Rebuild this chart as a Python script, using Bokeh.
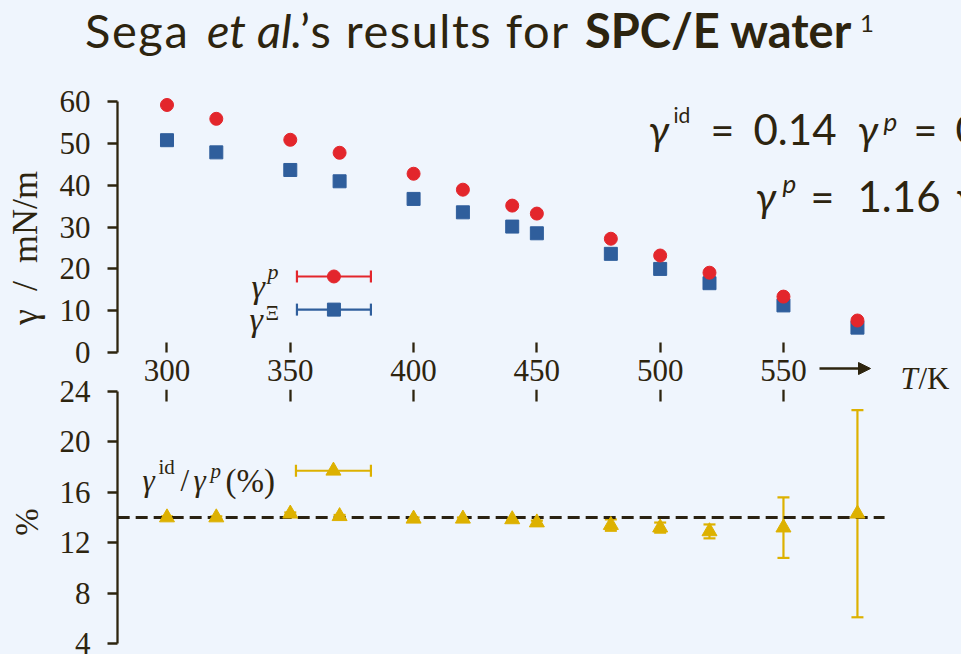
import math
from bokeh.plotting import figure
from bokeh.models import (Range1d, FixedTicker, Label, Whisker, TeeHead,
                          ColumnDataSource, Arrow, NormalHead, Div)
from bokeh.layouts import column
from bokeh.embed import file_html
from bokeh.resources import INLINE

# ---------------- data ----------------
temperature = [300, 320, 350, 370, 400, 420, 440, 450, 480, 500, 520, 550, 580]
gamma_p = [59.1, 55.8, 50.8, 47.7, 42.7, 38.9, 35.1, 33.2, 27.2, 23.2, 19.1, 13.4, 7.7]
gamma_xi = [50.7, 47.8, 43.6, 40.9, 36.7, 33.5, 30.1, 28.5, 23.6, 20.0, 16.6, 11.3, 6.0]
ratio_pct = [14.0, 14.0, 14.3, 14.1, 13.9, 13.9, 13.85, 13.6, 13.4, 13.2, 12.9, 13.2, 14.3]
ratio_err = [0.1, 0.1, 0.1, 0.1, 0.1, 0.1, 0.1, 0.15, 0.45, 0.4, 0.55, 2.4, 8.2]
x_ticks = [300, 350, 400, 450, 500, 550]
top_y_ticks = [0, 10, 20, 30, 40, 50, 60]
bottom_y_ticks = [4, 8, 12, 16, 20, 24]
ideal_ratio = 14.0
ideal_line_T = [280, 591]

# ---------------- style ----------------
BG = "#eff5fd"
TXT = "#2d240f"
RED = "#e3262c"
BLUE = "#2f5e9c"
GOLD = "#ddb100"
SERIF = "Liberation Serif"
SANS = "Lato"

W = 961
LEFT = 117
HEAD_H = 80                 # title strip (html)
TOP_FRAME_TOP = 95
TOP_FRAME_BOTTOM = 400      # hidden under the bottom panel below y=389
TOP_H = TOP_FRAME_BOTTOM - HEAD_H
BOT_FRAME_TOP = 389
BOT_BORDER = 18             # transparent strip above bottom frame
OVERLAP = TOP_FRAME_BOTTOM - BOT_FRAME_TOP + BOT_BORDER
BOT_H = 654 - BOT_FRAME_TOP + BOT_BORDER

src = ColumnDataSource(dict(T=temperature, gp=gamma_p, gx=gamma_xi, r=ratio_pct,
                            lo=[a - b for a, b in zip(ratio_pct, ratio_err)],
                            hi=[a + b for a, b in zip(ratio_pct, ratio_err)]))


def style_common(p):
    p.grid.visible = False
    p.outline_line_color = None
    p.background_fill_color = BG
    p.border_fill_color = BG


def style_y(ax, bounds, ticks, label, label_size):
    ax.ticker = FixedTicker(ticks=ticks)
    ax.bounds = bounds
    ax.axis_line_color = TXT
    ax.axis_line_width = 2.3
    ax.major_tick_line_color = TXT
    ax.major_tick_line_width = 2.3
    ax.major_tick_out = 10
    ax.major_tick_in = 0
    ax.minor_tick_line_color = None
    ax.major_label_text_font = SERIF
    ax.major_label_text_font_size = "31px"
    ax.major_label_text_color = TXT
    ax.major_label_standoff = 17
    ax.axis_label = label
    ax.axis_label_text_font = SERIF
    ax.axis_label_text_font_size = label_size
    ax.axis_label_text_font_style = "normal"
    ax.axis_label_text_color = TXT
    ax.axis_label_standoff = 12


def style_x(ax, tick_in):
    ax.ticker = FixedTicker(ticks=x_ticks)
    ax.axis_line_color = None
    ax.major_tick_line_color = TXT
    ax.major_tick_line_width = 2.3
    ax.major_tick_in = tick_in
    ax.major_tick_out = 0
    ax.minor_tick_line_color = None
    ax.major_label_text_font = SERIF
    ax.major_label_text_color = TXT
    ax.major_label_text_font_size = "31px"
    ax.major_label_standoff = 7


def lab(p, fl, fb, px, py, text, size, font, style="normal", align="left",
        baseline="alphabetic", color=TXT):
    p.add_layout(Label(x=px - fl, y=fb - py, x_units="screen", y_units="screen",
                       text=text, text_font=font, text_font_size=f"{size}px",
                       text_font_style=style, text_align=align,
                       text_baseline=baseline, text_color=color))


def tee(col):
    return TeeHead(size=12, line_color=col, line_width=2.2)


# ---------------- title strip ----------------
def span(left, top, size, text, extra=""):
    return (f'<span style="position:absolute;left:{left}px;top:{top}px;'
            f'font-size:{size}px;line-height:1;white-space:nowrap;{extra}">{text}</span>')


title_html = (
    f'<div style="position:relative;width:{W}px;height:{HEAD_H}px;margin:0;'
    f'font-family:Lato;color:{TXT};background:{BG};">'
    + span(85, 6.6, 47, "Sega", "letter-spacing:1.6px;")
    + span(207, 6.6, 47, "et al.", "font-style:italic;")
    + span(300, 6.6, 47, "’s results for", "letter-spacing:1.5px;")
    + span(585, 6.6, 47, "SPC/E water", "font-weight:bold;")
    + span(860, 10.7, 24, "1")
    + "</div>"
)
head = Div(text=title_html, width=W, height=HEAD_H,
           styles={"margin": "0", "padding": "0", "background-color": BG})

# ---------------- top panel ----------------
PX_PER_UNIT = (352.3 - 100.7) / 60.0
p1 = figure(width=W, height=TOP_H, x_range=Range1d(279.93, 622.2),
            y_range=Range1d(-(TOP_FRAME_BOTTOM - 352.3) / PX_PER_UNIT, 61.36),
            output_backend="svg",
            toolbar_location=None, min_border_left=LEFT, min_border_right=0,
            min_border_top=TOP_FRAME_TOP - HEAD_H, min_border_bottom=0)
style_common(p1)
style_y(p1.yaxis[0], (0, 60), top_y_ticks, "γ\u2002/\u2002mN/m", "36px")
style_x(p1.xaxis[0], 10)
p1.xaxis[0].fixed_location = 0

p1.scatter("T", "gx", source=src, marker="square", size=13, color=BLUE)
p1.scatter("T", "gp", source=src, marker="circle", size=13, color=RED)

# legend (top)
LEG_X0, LEG_X1, LEG_XM = 352.7, 382.7, 367.7
for yy, col, mk in [(18.2, RED, "circle"), (10.3, BLUE, "square")]:
    p1.add_layout(Whisker(base=yy, lower=LEG_X0, upper=LEG_X1, dimension="width",
                          line_color=col, line_width=2.2,
                          lower_head=tee(col), upper_head=tee(col)))
    p1.scatter([LEG_XM], [yy], marker=mk, size=13, color=col)

fl, fb = LEFT, TOP_FRAME_BOTTOM
lab(p1, fl, fb, 251, 286, "γ", 34, SERIF, "italic")
lab(p1, fl, fb, 267, 271, "p", 22, SERIF, "italic")
lab(p1, fl, fb, 249, 319, "γ", 34, SERIF, "italic")
lab(p1, fl, fb, 265, 312, "Ξ", 21, SERIF)

# T/K with arrow
p1.add_layout(Arrow(x_start=819 - fl, y_start=fb - 368, x_end=870 - fl, y_end=fb - 368,
                    start_units="screen", end_units="screen", line_color=TXT,
                    line_width=2.6,
                    end=NormalHead(size=12, fill_color=TXT, line_color=TXT)))
lab(p1, fl, fb, 900, 378, "T", 31, SERIF, "italic")
lab(p1, fl, fb, 918, 378, "/K", 31, SERIF)

# equations (top right)
lab(p1, fl, fb, 648, 129, "γ", 41, SANS, "italic")
lab(p1, fl, fb, 673, 114, "id", 21, SANS)
lab(p1, fl, fb, 710, 129, "=", 41, SANS)
lab(p1, fl, fb, 753, 129, "0.14", 42, SANS)
lab(p1, fl, fb, 857, 129, "γ", 41, SANS, "italic")
lab(p1, fl, fb, 883, 120, "p", 26, SANS, "italic")
lab(p1, fl, fb, 913, 129, "=", 41, SANS)
lab(p1, fl, fb, 955, 129, "0.16", 41, SANS)

lab(p1, fl, fb, 755, 196, "γ", 41, SANS, "italic")
lab(p1, fl, fb, 782, 182, "p", 26, SANS, "italic")
lab(p1, fl, fb, 810, 196, "=", 41, SANS)
lab(p1, fl, fb, 857, 196, "1.16", 42, SANS)
lab(p1, fl, fb, 955, 196, "γ", 41, SANS, "italic")

# ---------------- bottom panel ----------------
p2 = figure(width=W, height=BOT_H, x_range=p1.x_range,
            y_range=Range1d(3.153, 24.135), output_backend="svg",
            toolbar_location=None, x_axis_location="above",
            min_border_left=LEFT, min_border_right=0, min_border_top=BOT_BORDER,
            min_border_bottom=0, styles={"margin-top": f"-{OVERLAP}px"})
style_common(p2)
p2.border_fill_alpha = 0
style_y(p2.yaxis[0], (4, 24), bottom_y_ticks, "%", "33px")
style_x(p2.xaxis[0], 12)
p2.xaxis[0].fixed_location = 24.135
p2.xaxis[0].major_label_overrides = {t: "" for t in x_ticks}

p2.line(ideal_line_T, [ideal_ratio, ideal_ratio], line_color="#2a2212",
        line_width=3, line_dash="12 6")
p2.add_layout(Whisker(source=src, base="T", lower="lo", upper="hi",
                      dimension="height", line_color=GOLD, line_width=2.2,
                      lower_head=tee(GOLD), upper_head=tee(GOLD)))
p2.scatter("T", "r", source=src, marker="triangle", size=15, color=GOLD)

# legend (bottom)
p2.add_layout(Whisker(base=17.7, lower=352.3, upper=382.7, dimension="width",
                      line_color=GOLD, line_width=2.2,
                      lower_head=tee(GOLD), upper_head=tee(GOLD)))
p2.scatter([367.5], [17.7], marker="triangle", size=15, color=GOLD)

fl, fb = LEFT, 654
lab(p2, fl, fb, 142, 480, "γ", 31, SERIF, "italic")
lab(p2, fl, fb, 158, 466, "id", 21, SERIF)
lab(p2, fl, fb, 180, 480, "/", 31, SERIF)
lab(p2, fl, fb, 193, 480, "γ", 31, SERIF, "italic")
lab(p2, fl, fb, 210, 470, "p", 21, SERIF, "italic")
lab(p2, fl, fb, 225, 480, "(%)", 33, SERIF)

layout = column(head, p1, p2, spacing=0, styles={"background-color": BG})
open("out.html", "w").write(file_html(layout, INLINE))
